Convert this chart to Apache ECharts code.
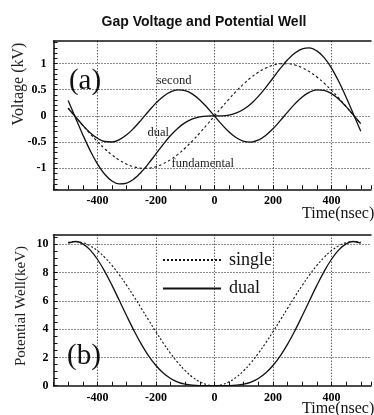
<!DOCTYPE html>
<html>
<head>
<meta charset="utf-8">
<script src="https://cdn.jsdelivr.net/npm/echarts@6/dist/echarts.min.js"></script>
<style>
    html, body { margin: 0; padding: 0; background: #fff; }
    #container { width: 374px; height: 415px; }
</style>
</head>
<body>
<div id="container"></div>
<script>
// time axis (nsec)
const time = [-500, -475, -450, -425, -400, -375, -350, -325, -300, -275, -250, -225, -200, -175, -150, -125, -100, -75, -50, -25,
    0, 25, 50, 75, 100, 125, 150, 175, 200, 225, 250, 275, 300, 325, 350, 375, 400, 425, 450, 475, 500];

// (a) gap voltage, kV
const fundamental = [0.148, -0.016, -0.180, -0.339, -0.488, -0.625, -0.744, -0.843, -0.920, -0.972, -0.997, -0.996, -0.968, -0.913, -0.834, -0.733, -0.612, -0.474, -0.323, -0.164,
    0, 0.164, 0.323, 0.474, 0.612, 0.733, 0.834, 0.913, 0.968, 0.996, 0.997, 0.972, 0.920, 0.843, 0.744, 0.625, 0.488, 0.339, 0.180, 0.016, -0.148];
const second = [0.146, -0.016, -0.177, -0.319, -0.426, -0.488, -0.497, -0.453, -0.361, -0.230, -0.074, 0.090, 0.244, 0.372, 0.460, 0.499, 0.484, 0.417, 0.306, 0.162,
    0, -0.162, -0.306, -0.417, -0.484, -0.499, -0.460, -0.372, -0.244, -0.090, 0.074, 0.230, 0.361, 0.453, 0.497, 0.488, 0.426, 0.319, 0.177, 0.016, -0.146];
const dual = [0.293, -0.033, -0.357, -0.657, -0.914, -1.112, -1.241, -1.297, -1.281, -1.201, -1.071, -0.906, -0.724, -0.541, -0.374, -0.234, -0.128, -0.057, -0.017, -0.002,
    0, 0.002, 0.017, 0.057, 0.128, 0.234, 0.374, 0.541, 0.724, 0.906, 1.071, 1.201, 1.281, 1.297, 1.241, 1.112, 0.914, 0.657, 0.357, 0.033, -0.293];

// (b) potential well, keV
const wellSingle = [10.144, 10.199, 10.117, 9.899, 9.552, 9.084, 8.508, 7.841, 7.100, 6.305, 5.477, 4.639, 3.814, 3.023, 2.288, 1.630, 1.065, 0.608, 0.273, 0.069,
    0, 0.069, 0.273, 0.608, 1.065, 1.630, 2.288, 3.023, 3.814, 4.639, 5.477, 6.305, 7.100, 7.841, 8.508, 9.084, 9.552, 9.899, 10.117, 10.199, 10.144];
const wellDual = [10.089, 10.199, 10.034, 9.607, 8.945, 8.089, 7.097, 6.028, 4.943, 3.897, 2.941, 2.110, 1.426, 0.896, 0.513, 0.260, 0.111, 0.036, 0.007, 0.001,
    0, 0.001, 0.007, 0.036, 0.111, 0.260, 0.513, 0.896, 1.426, 2.110, 2.941, 3.897, 4.943, 6.028, 7.097, 8.089, 8.945, 9.607, 10.034, 10.199, 10.089];

// grid / label positions
const timeTicks = [-400, -200, 0, 200, 400];
const voltTicks = [-1, -0.5, 0, 0.5, 1];
const wellTicks = [2, 4, 6, 8, 10];

const curveLabels = [
    { name: 'second', coord: [-138, 0.67] },
    { name: 'dual', coord: [-192, -0.32] },
    { name: 'fundamental', coord: [-40, -0.92] }
];

const serif = 'Liberation Serif';
const pairs = (ys) => time.map((t, i) => [t, ys[i]]);

function gridLines(yTicks) {
    const lines = timeTicks.map(v => ({ xAxis: v }))
        .concat(yTicks.map(v => ({ yAxis: v })));
    return {
        silent: true,
        symbol: ['none', 'none'],
        label: { show: false },
        lineStyle: { color: '#000', type: [1, 2], width: 1, opacity: 0.9 },
        emphasis: { disabled: true },
        animation: false,
        z: 1,
        data: lines
    };
}

function timeAxis(gridIndex) {
    return {
        type: 'value', gridIndex, min: -550, max: 535, interval: 50,
        axisLine: { show: true, onZero: false, lineStyle: { color: '#111', width: 1.5 } },
        axisTick: { show: true, inside: true, length: 4, lineStyle: { color: '#111' } },
        axisLabel: {
            margin: 6, color: '#000', fontFamily: serif, fontWeight: 'bold', fontSize: 12,
            formatter: v => (Math.abs(v % 200) < 1e-6 ? String(v) : '')
        },
        splitLine: { show: false }
    };
}

function frameTop(gridIndex) {
    return {
        type: 'value', gridIndex, position: 'top', min: -550, max: 535,
        axisLine: { show: true, onZero: false, lineStyle: { color: '#111', width: 1.5 } },
        axisTick: { show: false }, axisLabel: { show: false }, splitLine: { show: false }
    };
}

const chart = echarts.init(document.getElementById('container'), null, { renderer: 'canvas' });

const lineBase = {
    type: 'line', showSymbol: false, symbol: 'none', smooth: 0.4, animation: false, silent: true,
    itemStyle: { color: '#111' }
};

chart.setOption({
    backgroundColor: '#fff',
    grid: [
        { left: 53.5, top: 41, right: 0, height: 148.3 },
        { left: 53.5, top: 235, right: 0, height: 150.7 }
    ],
    xAxis: [timeAxis(0), frameTop(0), timeAxis(1), frameTop(1)],
    yAxis: [
        {
            type: 'value', gridIndex: 0, min: -1.4, max: 1.43, interval: 0.1,
            axisLine: { show: true, onZero: false, lineStyle: { color: '#111', width: 1.5 } },
            axisTick: { show: true, inside: true, length: 4, lineStyle: { color: '#111' } },
            axisLabel: {
                margin: 7, color: '#000', fontFamily: serif, fontWeight: 'bold', fontSize: 12,
                showMaxLabel: false,
                formatter: v => (Math.abs(v * 2 - Math.round(v * 2)) < 1e-6 ? String(Math.round(v * 2) / 2) : '')
            },
            splitLine: { show: false }
        },
        {
            type: 'value', gridIndex: 1, min: 0, max: 10.66, interval: 0.5,
            axisLine: { show: true, onZero: false, lineStyle: { color: '#111', width: 1.5 } },
            axisTick: { show: true, inside: true, length: 4, lineStyle: { color: '#111' } },
            axisLabel: {
                margin: 5, color: '#000', fontFamily: serif, fontWeight: 'bold', fontSize: 12,
                showMaxLabel: false,
                formatter: v => (Math.abs(v / 2 - Math.round(v / 2)) < 1e-6 ? String(Math.round(v)) : '')
            },
            splitLine: { show: false }
        }
    ],
    legend: {
        data: ['single', 'dual'],
        orient: 'vertical',
        left: 157, top: 245,
        itemWidth: 58, itemHeight: 20, itemGap: 8.4,
        selectedMode: false,
        itemStyle: { opacity: 0 },
        textStyle: { fontFamily: serif, fontSize: 18, color: '#111', lineHeight: 20, padding: [0, 0, 0, 3] }
    },
    series: [
        Object.assign({}, lineBase, {
            name: 'fundamental', xAxisIndex: 0, yAxisIndex: 0,
            data: pairs(fundamental),
            lineStyle: { color: '#111', width: 1.1, type: [2.5, 2.5] },
            markLine: gridLines(voltTicks)
        }),
        Object.assign({}, lineBase, {
            name: 'second', xAxisIndex: 0, yAxisIndex: 0,
            data: pairs(second),
            lineStyle: { color: '#111', width: 1.3 },
            markPoint: {
                symbol: 'rect', symbolSize: 1, silent: true, animation: false,
                itemStyle: { color: 'rgba(0,0,0,0)' },
                label: {
                    show: true, position: 'inside', color: '#222', fontFamily: serif, fontSize: 12.5,
                    formatter: p => p.name
                },
                data: curveLabels
            }
        }),
        Object.assign({}, lineBase, {
            name: 'dual ', xAxisIndex: 0, yAxisIndex: 0,
            data: pairs(dual),
            lineStyle: { color: '#111', width: 1.3 }
        }),
        Object.assign({}, lineBase, {
            name: 'single', xAxisIndex: 2, yAxisIndex: 1,
            data: pairs(wellSingle),
            lineStyle: { color: '#111', width: 1.1, type: [2, 2] },
            markLine: gridLines(wellTicks)
        }),
        Object.assign({}, lineBase, {
            name: 'dual', xAxisIndex: 2, yAxisIndex: 1,
            data: pairs(wellDual),
            lineStyle: { color: '#111', width: 1.3 }
        })
    ],
    graphic: [
        { type: 'text', x: 204, y: 22, style: { text: 'Gap Voltage and Potential Well', font: 'bold 14px "Liberation Sans"', fill: '#111', align: 'center', verticalAlign: 'middle' } },
        { type: 'text', x: 85, y: 81, style: { text: '(a)', font: '29px "Liberation Serif"', fill: '#111', align: 'center', verticalAlign: 'middle' } },
        { type: 'text', x: 84, y: 356, style: { text: '(b)', font: '29px "Liberation Serif"', fill: '#111', align: 'center', verticalAlign: 'middle' } },
        { type: 'text', x: 19, y: 84, rotation: Math.PI / 2, style: { text: 'Voltage (kV)', font: '16px "Liberation Serif"', fill: '#222', align: 'center', verticalAlign: 'middle' } },
        { type: 'text', x: 21, y: 306, rotation: Math.PI / 2, style: { text: 'Potential Well(keV)', font: '15px "Liberation Serif"', fill: '#222', align: 'center', verticalAlign: 'middle' } },
        { type: 'text', x: 302, y: 214, style: { text: 'Time(nsec)', font: '16px "Liberation Serif"', fill: '#111', align: 'left', verticalAlign: 'middle' } },
        { type: 'text', x: 302, y: 409, style: { text: 'Time(nsec)', font: '16px "Liberation Serif"', fill: '#111', align: 'left', verticalAlign: 'middle' } }
    ]
});

window.addEventListener('resize', () => chart.resize());
</script>
</body>
</html>
